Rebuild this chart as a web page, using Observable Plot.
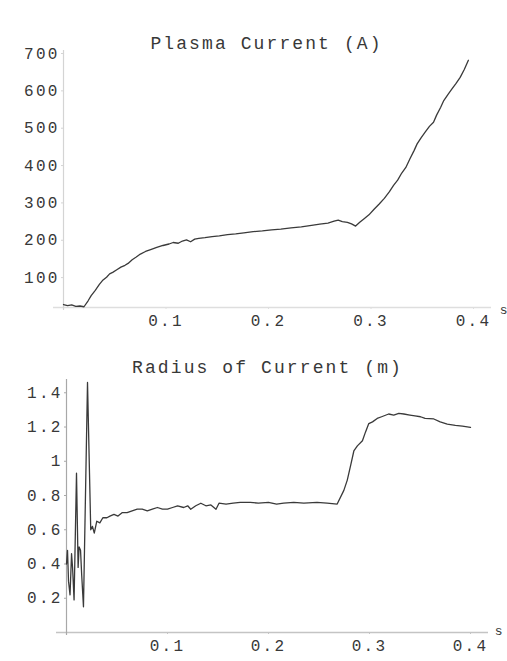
<!DOCTYPE html>
<html>
<head>
<meta charset="utf-8">
<script src="https://cdn.jsdelivr.net/npm/d3@7"></script>
<script src="https://cdn.jsdelivr.net/npm/@observablehq/plot@0.6"></script>
<style>
  html, body { margin: 0; padding: 0; background: #fff; }
  #chart { width: 507px; }
  svg { display: block; }
  .ttl text { letter-spacing: 2.1px; }
  .tk text { letter-spacing: 2.2px; }
</style>
</head>
<body>
<div id="chart"></div>
<script>
// ---- data ----
const timeCurrent = [0.000,0.004,0.008,0.012,0.016,0.020,0.024,0.027,0.031,0.035,0.038,0.042,0.045,0.048,0.052,0.056,0.060,0.063,0.067,0.071,0.075,0.080,0.085,0.091,0.097,0.103,0.107,0.112,0.116,0.120,0.124,0.128,0.132,0.138,0.145,0.152,0.160,0.168,0.176,0.185,0.194,0.203,0.212,0.222,0.232,0.242,0.250,0.258,0.264,0.268,0.272,0.277,0.281,0.285,0.289,0.293,0.298,0.303,0.308,0.313,0.318,0.322,0.326,0.330,0.334,0.338,0.342,0.345,0.349,0.353,0.357,0.361,0.364,0.368,0.371,0.375,0.379,0.383,0.387,0.391,0.395];
const plasmaCurrent = [28,25,27,23,24,22,38,52,66,82,92,101,110,114,121,128,133,138,148,155,163,170,175,181,186,190,194,192,198,201,196,203,205,207,210,212,215,217,220,223,225,228,230,233,236,240,243,246,251,254,250,248,244,238,248,257,268,283,297,312,330,347,361,380,395,418,440,458,475,490,505,516,535,556,574,590,605,620,636,657,682];

const timeRadius = [0.000,0.001,0.002,0.0035,0.005,0.006,0.0075,0.0099,0.0115,0.0125,0.0139,0.0150,0.0168,0.0208,0.0240,0.0257,0.0275,0.030,0.033,0.036,0.040,0.043,0.047,0.051,0.055,0.060,0.065,0.070,0.075,0.080,0.085,0.090,0.095,0.100,0.105,0.110,0.116,0.120,0.123,0.128,0.133,0.138,0.143,0.148,0.151,0.158,0.165,0.172,0.182,0.190,0.200,0.208,0.215,0.225,0.235,0.248,0.258,0.268,0.2746,0.278,0.2815,0.2845,0.288,0.293,0.296,0.2993,0.303,0.3076,0.312,0.319,0.324,0.329,0.334,0.340,0.345,0.3505,0.355,0.3637,0.370,0.377,0.385,0.392,0.400];
const radiusCurrent = [0.40,0.48,0.30,0.22,0.46,0.38,0.19,0.93,0.38,0.50,0.48,0.34,0.15,1.46,0.60,0.62,0.58,0.65,0.64,0.67,0.67,0.68,0.69,0.68,0.70,0.70,0.71,0.72,0.72,0.71,0.72,0.73,0.72,0.72,0.73,0.74,0.73,0.74,0.72,0.74,0.755,0.74,0.745,0.72,0.755,0.75,0.755,0.76,0.76,0.755,0.76,0.75,0.755,0.76,0.755,0.76,0.755,0.75,0.83,0.89,0.98,1.06,1.09,1.12,1.17,1.22,1.23,1.25,1.26,1.276,1.27,1.28,1.276,1.27,1.265,1.26,1.25,1.247,1.23,1.217,1.21,1.205,1.198];

const xTicks = [0.1, 0.2, 0.3, 0.4];
const yTicksCurrent = [100, 200, 300, 400, 500, 600, 700];
const yTicksRadius = [0.2, 0.4, 0.6, 0.8, 1, 1.2, 1.4];
const titleCurrent = "Plasma Current (A)";
const titleRadius = "Radius of Current (m)";
const unitX = "s";

const font = "'Liberation Mono', 'DejaVu Sans Mono', monospace";
const ink = "#383838";

function panel({time, values, yDomain, yTicks, yFormat, title, height, mL, mR, mT, mB, titleDy, titleDx, unitDx, unitDy, axisGrayX, axisGrayY}) {
  const data = time.map((t, i) => ({t, v: values[i]}));
  return Plot.plot({
    width: 507, height,
    marginLeft: mL, marginRight: mR, marginTop: mT, marginBottom: mB,
    style: {fontFamily: font, fontSize: "16px", color: ink, background: "#fff"},
    x: {domain: [0, 0.4]},
    y: {domain: yDomain},
    marks: [
      Plot.ruleY([yDomain[0]], {stroke: axisGrayX, strokeWidth: 1.3, insetLeft: -10, insetRight: -18}),
      Plot.ruleX([0], {stroke: axisGrayY, strokeWidth: 1.2, insetTop: -3, insetBottom: -3}),
      Plot.axisX(xTicks, {className: "tk", anchor: "bottom", tickSize: 2, tickPadding: 5, tickFormat: d3.format(".1f"), stroke: axisGrayX, fill: ink, label: null}),
      Plot.axisY(yTicks, {className: "tk", anchor: "left", tickSize: 2, tickPadding: 2, tickFormat: yFormat, stroke: axisGrayY, fill: ink, label: null}),
      Plot.line(data, {x: "t", y: "v", stroke: "#3a3a3a", strokeWidth: 1.3}),
      Plot.text([title], {className: "ttl", frameAnchor: "top", dy: titleDy, dx: titleDx, fontSize: 18, fill: ink}),
      Plot.text([unitX], {frameAnchor: "bottom-right", dx: unitDx, dy: unitDy, fontSize: 13, fill: ink})
    ]
  });
}

const topPanel = panel({
  time: timeCurrent, values: plasmaCurrent,
  yDomain: [20, 700], yTicks: yTicksCurrent, yFormat: d => String(d),
  title: titleCurrent, height: 330, mL: 63, mR: 34, mT: 53, mB: 23,
  titleDy: -17, titleDx: -2, unitDx: 34, unitDy: 6, axisGrayX: "#dedede", axisGrayY: "#d4d4d4"
});
const bottomPanel = panel({
  time: timeRadius, values: radiusCurrent,
  yDomain: [0, 1.46], yTicks: yTicksRadius, yFormat: d => d === 1 ? "1" : d.toFixed(1),
  title: titleRadius, height: 331, mL: 66, mR: 37, mT: 52, mB: 29,
  titleDy: -22, titleDx: -1, unitDx: 32, unitDy: 2, axisGrayX: "#c4c4c4", axisGrayY: "#a8a8a8"
});
document.getElementById("chart").append(topPanel, bottomPanel);
</script>
</body>
</html>
